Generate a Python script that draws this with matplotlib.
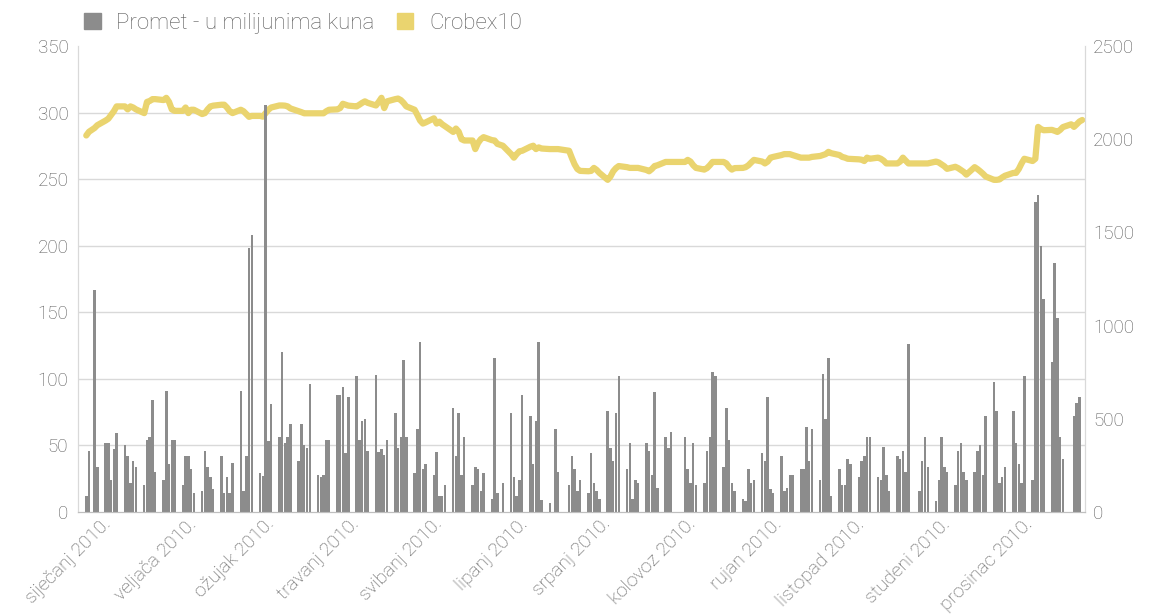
import matplotlib.pyplot as plt
import matplotlib.transforms as mtransforms
from matplotlib.patches import Patch
from matplotlib.ticker import FixedLocator
import numpy as np
import pandas as pd

# promet (mil. kn) po tjednima, pon-pet; 0 = praznik / nema trgovanja
promet_tjedni = [
    [12, 46, 0, 167, 34], [52, 52, 24, 47, 59], [50, 42, 22, 38, 34], [20, 54, 56, 84, 30],
    [24, 91, 36, 54, 54], [20, 42, 42, 32, 14], [16, 46, 34, 26, 17], [42, 14, 26, 14, 37],
    [91, 16, 42, 198, 208], [29, 27, 306, 53, 81], [56, 120, 52, 56, 66], [38, 66, 50, 48, 96],
    [28, 26, 28, 54, 54], [88, 88, 94, 44, 86], [102, 54, 68, 70, 46], [103, 45, 47, 43, 54],
    [74, 48, 56, 114, 56], [29, 62, 128, 32, 36], [28, 45, 12, 12, 20], [78, 42, 74, 28, 56],
    [20, 34, 32, 16, 29], [10, 116, 14, 0, 22], [74, 26, 12, 24, 88], [72, 36, 68, 128, 9],
    [7, 0, 62, 30, 0], [20, 42, 32, 16, 24], [14, 44, 22, 16, 10], [76, 48, 38, 74, 102],
    [32, 52, 10, 24, 22], [52, 46, 28, 90, 18], [56, 48, 60, 0, 0], [56, 32, 22, 52, 20],
    [22, 46, 56, 105, 102], [34, 78, 54, 22, 16], [10, 8, 32, 22, 24], [44, 38, 86, 17, 14],
    [42, 16, 18, 28, 28], [32, 32, 64, 38, 62], [24, 104, 70, 116, 12], [32, 20, 20, 40, 36],
    [26, 38, 42, 56, 56], [26, 24, 49, 28, 16], [42, 40, 46, 30, 126], [0, 16, 38, 56, 34],
    [8, 24, 56, 34, 30], [20, 46, 52, 30, 24], [30, 46, 50, 28, 72], [98, 76, 22, 26, 34],
    [76, 52, 36, 22, 102], [24, 233, 238, 200, 160], [113, 187, 146, 56, 40], [0, 72, 82, 86, 0],
]

# Crobex10 po tjednima, pon-pet; None = praznik
crobex_tjedni = [
    [2020, 2040, None, 2060, 2075], [2100, 2110, 2130, 2150, 2176], [2176, 2160, 2176, 2170, 2160],
    [2140, 2200, 2205, 2215, 2215], [2210, 2222, 2200, 2160, 2152], [2152, 2170, 2140, 2158, 2158],
    [2135, 2140, 2160, 2176, 2180], [2185, 2185, 2170, 2150, 2140], [2158, 2150, 2135, 2120, 2125],
    [2125, 2121, 2140, 2158, 2170], [2181, 2181, 2180, 2176, 2165], [2150, 2145, 2139, 2139, 2139],
    [2139, 2139, 2139, 2150, 2158], [2160, 2167, 2190, 2185, 2180], [2176, 2185, 2195, 2203, 2195],
    [2181, 2200, 2222, 2167, 2203], [2215, 2218, 2210, 2195, 2176], [2158, 2130, 2100, 2084, 2090],
    [2112, 2084, 2094, 2080, 2070], [2039, 2057, 2040, 2000, 1993], [1993, 1947, 1980, 2000, 2011],
    [1995, 1993, 1975, None, 1965], [1920, 1901, 1920, 1935, 1938], [1960, 1965, 1947, 1956, 1950],
    [1947, None, 1947, 1947, None], [1938, 1900, 1865, 1840, 1830], [1828, 1830, 1846, 1835, 1819],
    [1782, 1800, 1828, 1845, 1856], [1850, 1846, 1846, 1846, 1846], [1835, 1828, 1840, 1856, 1860],
    [1878, 1878, 1878, None, 1878], [1878, 1889, 1880, 1860, 1846], [1837, 1845, 1860, 1878, 1878],
    [1878, 1870, 1850, 1837, 1845], [1846, 1850, 1860, 1875, 1889], [1880, 1870, 1880, 1901, 1905],
    [1915, 1920, 1920, 1920, 1915], [1901, 1901, 1901, 1901, 1905], [1910, 1915, 1920, 1932, 1925],
    [1915, 1905, 1901, 1895, None], [1892, 1890, 1883, 1901, 1895], [1901, 1895, 1885, 1870, 1870],
    [1870, 1880, 1901, 1885, 1870], [None, 1870, 1870, 1870, 1870], [1880, 1875, 1865, 1855, 1841],
    [1852, 1845, 1835, 1825, 1810], [1850, 1840, 1828, 1815, 1800], [1782, 1782, 1784, 1795, 1804],
    [1819, 1819, 1840, 1870, 1895], [1883, 1895, 2066, 2055, 2048], [2050, 2045, 2039, 2050, 2065],
    [2080, 2066, 2080, 2095, 2103],
]

mjeseci = ["siječanj 2010.", "veljača 2010.", "ožujak 2010.", "travanj 2010.",
           "svibanj 2010.", "lipanj 2010.", "srpanj 2010.", "kolovoz 2010.",
           "rujan 2010.", "listopad 2010.", "studeni 2010.", "prosinac 2010."]

dani = pd.bdate_range("2010-01-04", "2010-12-31")
promet = np.array([v for w in promet_tjedni for v in w], dtype=float)
crobex = np.array([np.nan if v is None else v for w in crobex_tjedni for v in w], dtype=float)

plt.rcParams['font.family'] = ['Roboto', 'DejaVu Sans']
plt.rcParams['font.weight'] = 'light'
siva_txt = '#595959'
grid_c = '#d9d9d9'

fig = plt.figure(figsize=(11.58, 6.16), dpi=100)
ax = fig.add_axes([78 / 1158, 1 - 512 / 616, (1085 - 78) / 1158, (512 - 46) / 616])
ax2 = ax.twinx()
# stupci iznad linije
ax.set_zorder(ax2.get_zorder() + 1)
ax.patch.set_visible(False)

ok = ~np.isnan(crobex)
ax2.plot(dani[ok], crobex[ok], color='#ead46f', lw=4.5,
         solid_joinstyle='round', solid_capstyle='round')
ax.bar(dani, promet, width=0.9, color='#8c8c8c', linewidth=0)

ax.set_xlim(pd.Timestamp("2010-01-01"), pd.Timestamp("2011-01-01"))
ax.set_ylim(0, 350)
ax.set_yticks(np.arange(0, 351, 50))
ax2.set_ylim(0, 2500)
ax2.set_yticks(np.arange(0, 2501, 500))
# mreza prema lijevoj osi, crtana ispod linije
ax2.yaxis.set_minor_locator(FixedLocator(np.arange(50, 351, 50) * 2500 / 350))
ax2.grid(which='minor', axis='y', color=grid_c, lw=1)
ax2.tick_params(which='minor', length=0)

ax.tick_params(axis='x', length=0, labelsize=13.8, colors=siva_txt)
ax.tick_params(axis='y', length=0, labelsize=13.5, colors=siva_txt, pad=7)
ax2.tick_params(axis='y', length=0, labelsize=13.5, colors=siva_txt, pad=6)

mj_poc = pd.date_range("2010-01-01", periods=12, freq="MS")
ax.set_xticks(mj_poc)
ax.set_xticklabels(mjeseci)
pomak = mtransforms.ScaledTranslation(24 / 100, 2 / 100, fig.dpi_scale_trans)
for lbl in ax.get_xticklabels():
    lbl.set_rotation(45)
    lbl.set_ha('right')
    lbl.set_va('top')
    lbl.set_rotation_mode('anchor')
    lbl.set_transform(lbl.get_transform() + pomak)

for a in (ax, ax2):
    a.spines['top'].set_visible(False)
    a.spines['left'].set_color(grid_c)
    a.spines['right'].set_color(grid_c)
    a.spines['bottom'].set_color('#bfbfbf')

fig.legend(handles=[Patch(color='#8c8c8c'), Patch(color='#ead46f')],
           labels=["Promet - u milijunima kuna", "Crobex10"],
           loc='upper left', bbox_to_anchor=(64 / 1158, 1.012), ncol=2, frameon=False,
           handlelength=0.75, handleheight=0.75, handletextpad=0.7, columnspacing=1.0,
           fontsize=16, labelcolor=siva_txt)

fig.savefig("out.png", dpi=100)
